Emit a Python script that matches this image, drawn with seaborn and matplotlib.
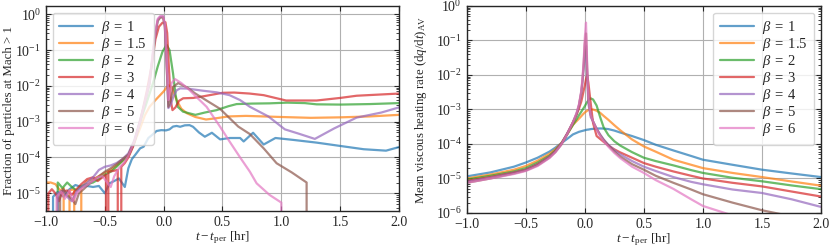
import numpy as np
import pandas as pd
import seaborn as sns
import matplotlib.pyplot as plt

betas = ['1', '1.5', '2', '3', '4', '5', '6']
colors = ['#1f77b4', '#ff7f0e', '#2ca02c', '#d62728', '#9467bd', '#8c564b', '#e377c2']

# ---- left panel: fraction of particles at Mach > 1 (0 = no particles) ----
mach_t_b1 = [-1.0, -0.98, -0.94, -0.9, -0.85, -0.8, -0.75, -0.7, -0.65, -0.6, -0.55, -0.5, -0.46,
             -0.42, -0.38, -0.33, -0.3, -0.27, -0.24, -0.2, -0.17, -0.13, -0.1, -0.06, -0.02, 0.02,
             0.05, 0.08, 0.11, 0.14, 0.18, 0.22, 0.25, 0.3, 0.35, 0.41, 0.48, 0.56, 0.65, 0.68, 0.76,
             0.85, 0.95, 1.1, 1.3, 1.5, 1.7, 1.89, 2.0]
mach_b1 = [1.4e-5, 0, 8e-6, 1.1e-5, 8e-6, 1.3e-5, 1.7e-5, 1.5e-5, 1.6e-5, 1.5e-5, 1.6e-5, 1.0e-5, 1.9e-5,
           2.2e-5, 2.6e-5, 1.5e-5, 5e-5, 9e-5, 1.2e-4, 1.8e-4, 2.0e-4, 3.5e-4, 4.2e-4, 5.5e-4, 5.8e-4, 5.7e-4,
           6.1e-4, 7.3e-4, 7.6e-4, 7.2e-4, 7.9e-4, 8.0e-4, 7.2e-4, 5.0e-4, 3.8e-4, 4.9e-4, 3.2e-4, 3.5e-4,
           3.5e-4, 2.8e-4, 4.9e-4, 2.3e-4, 3.5e-4, 3.1e-4, 2.6e-4, 2.1e-4, 1.7e-4, 1.55e-4, 1.95e-4]

mach_t_b15 = [-1.0, -0.96, -0.92, -0.88, -0.85, -0.83, -0.8, -0.76, -0.73, -0.7, -0.65, -0.6, -0.55, -0.5,
              -0.45, -0.4, -0.35, -0.3, -0.25, -0.2, -0.16, -0.12, -0.07, 0.0, 0.04, 0.07, 0.11, 0.15,
              0.2, 0.27, 0.36, 0.45, 0.55, 0.7, 0.85, 1.0, 1.25, 1.5, 1.75, 2.0]
mach_b15 = [2e-5, 2e-5, 1.8e-5, 1.2e-5, 1.4e-5, 0, 1.2e-5, 1.3e-5, 0, 1.4e-5, 2.2e-5, 2.5e-5, 3e-5, 3.8e-5,
            4.5e-5, 6e-5, 8e-5, 1.1e-4, 2.6e-4, 6.6e-4, 1.5e-3, 2.6e-3, 4e-3, 7e-3, 1.05e-2, 9e-3, 4e-3, 2.3e-3,
            1.7e-3, 1.35e-3, 1.15e-3, 1.25e-3, 1.4e-3, 1.45e-3, 1.4e-3, 1.35e-3, 1.28e-3, 1.32e-3, 1.4e-3, 1.55e-3]

mach_t_b2 = [-0.93, -0.9, -0.86, -0.82, -0.78, -0.74, -0.7, -0.65, -0.6, -0.55, -0.5, -0.45, -0.4, -0.35,
             -0.3, -0.25, -0.2, -0.15, -0.09, -0.05, -0.01, 0.025, 0.05, 0.08, 0.1, 0.12, 0.165, 0.27, 0.35,
             0.45, 0.55, 0.62, 0.75, 0.9, 1.05, 1.2, 1.3, 1.5, 1.75, 2.0]
mach_b2 = [0, 2e-5, 1.4e-5, 2e-5, 1.5e-5, 1.2e-5, 1.6e-5, 1.8e-5, 2e-5, 2.5e-5, 3.3e-5, 4e-5, 5.5e-5, 8e-5,
           1.1e-4, 2.5e-4, 1e-3, 3e-3, 1.2e-2, 3.5e-2, 9e-2, 1.4e-1, 1e-1, 2.2e-2, 6e-3, 2.6e-3, 1.9e-3, 1.55e-3,
           1.8e-3, 2.1e-3, 2.7e-3, 3.1e-3, 3.2e-3, 3.25e-3, 3.4e-3, 3.3e-3, 3.05e-3, 3.0e-3, 3.1e-3, 3.3e-3]

mach_t_b3 = [-1.0, -0.98, -0.95, -0.92, -0.89, -0.86, -0.82, -0.78, -0.74, -0.7, -0.65, -0.6, -0.56, -0.52,
             -0.49, -0.48, -0.47, -0.43, -0.39, -0.38, -0.36, -0.33, -0.3, -0.26, -0.22, -0.18, -0.14, -0.1,
             -0.07, -0.04, -0.01, 0.015, 0.03, 0.045, 0.06, 0.075, 0.1, 0.13, 0.166, 0.25, 0.35, 0.5, 0.6,
             0.73, 0.85, 1.04, 1.3, 1.5, 1.64, 2.0]
mach_b3 = [0, 1e-5, 1.3e-5, 1e-5, 6e-6, 1.1e-5, 1.2e-5, 9e-6, 1.3e-5, 1.8e-5, 2.5e-5, 2.8e-5, 2.2e-5, 2.8e-5,
           3.3e-5, 0, 4e-5, 4.2e-5, 4.5e-5, 0, 5.5e-5, 7e-5, 1e-4, 2e-4, 6e-4, 2e-3, 8e-3, 4e-2,
           2e-1, 4.5e-1, 5.8e-1, 6e-1, 3e-1, 3e-2, 4e-3, 2.1e-3, 2.5e-3, 3.8e-3, 4.5e-3, 4.6e-3, 5.2e-3, 6.4e-3,
           6.5e-3, 6.1e-3, 5.5e-3, 3.9e-3, 3.9e-3, 4.6e-3, 5.3e-3, 6.1e-3]

mach_t_b4 = [-0.92, -0.9, -0.86, -0.82, -0.78, -0.74, -0.7, -0.65, -0.6, -0.55, -0.5, -0.45, -0.4, -0.35,
             -0.3, -0.25, -0.2, -0.16, -0.12, -0.09, -0.07, -0.05, -0.03, -0.005, 0.01, 0.025, 0.04, 0.06,
             0.083, 0.11, 0.14, 0.2, 0.336, 0.45, 0.56, 0.65, 0.733, 0.89, 1.03, 1.15, 1.285, 1.45, 1.64,
             1.85, 2.0]
mach_b4 = [0, 1e-5, 1.2e-5, 8e-6, 6e-6, 1.1e-5, 1.5e-5, 2e-5, 2.8e-5, 4.5e-5, 5.5e-5, 6e-5, 7e-5, 9e-5,
           1.3e-4, 3e-4, 1.1e-3, 3.5e-3, 1.2e-2, 9e-2, 3e-1, 7e-1, 8.5e-1, 8.7e-1, 5e-1, 5e-2, 2.4e-3, 3e-3,
           5e-3, 7.5e-3, 8.5e-3, 8.4e-3, 7.3e-3, 6.6e-3, 5.5e-3, 4e-3, 2.6e-3, 1.4e-3, 6.1e-4, 4.6e-4, 3.3e-4,
           6.5e-4, 1.3e-3, 1.8e-3, 2.5e-3]

mach_t_b5 = [-0.9, -0.88, -0.85, -0.82, -0.78, -0.75, -0.72, -0.68, -0.62, -0.55, -0.5, -0.45, -0.4, -0.35,
             -0.3, -0.25, -0.2, -0.16, -0.12, -0.09, -0.07, -0.05, -0.03, -0.005, 0.01, 0.025, 0.04, 0.06,
             0.083, 0.124, 0.2, 0.266, 0.37, 0.478, 0.634, 0.733, 0.85, 0.96, 1.09, 1.215, 1.225]
mach_b5 = [0, 1e-5, 1.3e-5, 9e-6, 7e-6, 5e-6, 1e-5, 1.3e-5, 2e-5, 3e-5, 4e-5, 5e-5, 6.5e-5, 9e-5,
           1.2e-4, 2.8e-4, 1e-3, 3.3e-3, 1.1e-2, 8e-2, 2.8e-1, 6.5e-1, 8e-1, 8.2e-1, 4.5e-1, 4e-2, 2.6e-3, 4e-3,
           9.5e-3, 1.2e-2, 9e-3, 6.2e-3, 3.8e-3, 2.3e-3, 7.3e-4, 4.5e-4, 1.8e-4, 6.9e-5, 3.8e-5, 2e-5, 0]

mach_t_b6 = [-0.93, -0.91, -0.87, -0.84, -0.8, -0.77, -0.73, -0.68, -0.62, -0.56, -0.52, -0.48, -0.45, -0.42,
             -0.38, -0.34, -0.3, -0.25, -0.2, -0.16, -0.12, -0.09, -0.07, -0.05, -0.03, -0.005, 0.01, 0.025,
             0.04, 0.068, 0.096, 0.15, 0.22, 0.29, 0.365, 0.48, 0.56, 0.65, 0.733, 0.79, 0.9, 1.0, 1.01]
mach_b6 = [0, 8e-6, 1.1e-5, 7e-6, 1.2e-5, 6e-6, 1.1e-5, 1.5e-5, 2e-5, 2.8e-5, 3e-5, 2e-5, 1.5e-5, 3e-5,
           5e-5, 7e-5, 1.1e-4, 2.7e-4, 1e-3, 3.5e-3, 1.3e-2, 1e-1, 3.2e-1, 7.5e-1, 8.8e-1, 8.8e-1, 5.5e-1, 6e-2,
           4e-3, 1.2e-2, 1.55e-2, 1.2e-2, 7.6e-3, 4.5e-3, 2.6e-3, 7.2e-4, 2.8e-4, 1e-4, 4e-5, 1.9e-5, 9e-6,
           5.5e-6, 0]

# ---- right panel: mean viscous heating rate ----
heat_t = [-1.0, -0.8, -0.6, -0.5, -0.4, -0.3, -0.25, -0.2, -0.15, -0.1, -0.07, -0.05, -0.03, -0.02, -0.01,
          0.0, 0.01, 0.02, 0.03, 0.05, 0.07, 0.1, 0.13, 0.16, 0.2, 0.25, 0.3, 0.4, 0.5, 0.6, 0.75, 0.9,
          1.0, 1.25, 1.5, 1.75, 2.0]
heat_b1 = [1.15e-5, 1.5e-5, 2.2e-5, 2.9e-5, 4.0e-5, 6.0e-5, 7.8e-5, 1.05e-4, 1.4e-4, 1.9e-4, 2.1e-4, 2.25e-4,
           2.35e-4, 2.4e-4, 2.45e-4, 2.5e-4, 2.55e-4, 2.6e-4, 2.62e-4, 2.7e-4, 2.75e-4, 2.8e-4, 2.82e-4, 2.8e-4,
           2.7e-4, 2.45e-4, 2.15e-4, 1.7e-4, 1.3e-4, 9.5e-5, 6.5e-5, 4.5e-5, 3.5e-5, 2.5e-5, 1.8e-5, 1.4e-5,
           1.1e-5]
heat_b15 = [1.0e-5, 1.3e-5, 1.8e-5, 2.3e-5, 3.3e-5, 5.2e-5, 7e-5, 1.05e-4, 1.9e-4, 3.6e-4, 4.6e-4, 5.4e-4,
            6.4e-4, 7e-4, 7.6e-4, 8.2e-4, 8.7e-4, 9.2e-4, 9.6e-4, 1.0e-3, 1.0e-3, 9.2e-4, 8e-4, 6.5e-4, 5e-4,
            3.5e-4, 2.5e-4, 1.35e-4, 8.5e-5, 6e-5, 3.5e-5, 2.5e-5, 2e-5, 1.45e-5, 1.1e-5, 8.2e-6, 6.2e-6]
heat_b2 = [9.3e-6, 1.2e-5, 1.6e-5, 2.0e-5, 2.9e-5, 4.6e-5, 6.5e-5, 1e-4, 1.9e-4, 3.6e-4, 5.2e-4, 6.8e-4,
           8.6e-4, 9.8e-4, 1.1e-3, 1.25e-3, 1.45e-3, 1.65e-3, 1.85e-3, 2.1e-3, 1.95e-3, 1.3e-3, 6e-4, 3e-4,
           1.8e-4, 1.2e-4, 9e-5, 5.8e-5, 4e-5, 3.2e-5, 2.4e-5, 1.75e-5, 1.45e-5, 1.05e-5, 8.3e-6, 6.3e-6, 4.9e-6]
heat_b3 = [8.5e-6, 1.1e-5, 1.5e-5, 1.8e-5, 2.6e-5, 4.3e-5, 6.2e-5, 1e-4, 2e-4, 4.2e-4, 7e-4, 1.05e-3,
           1.7e-3, 2.4e-3, 3.5e-3, 5e-3, 7.5e-3, 1e-2, 6e-3, 1.5e-3, 4e-4, 1.7e-4, 1.4e-4, 1.15e-4, 9e-5,
           7e-5, 5.7e-5, 4e-5, 2.8e-5, 2.2e-5, 1.6e-5, 1.2e-5, 1e-5, 7.5e-6, 5.9e-6, 4.2e-6, 3e-6]
heat_b4 = [8e-6, 1.05e-5, 1.45e-5, 1.75e-5, 2.5e-5, 4.2e-5, 6e-5, 1e-4, 2e-4, 4.3e-4, 7.5e-4, 1.3e-3,
           3e-3, 6e-3, 1.5e-2, 4e-2, 7e-2, 1e-2, 1.5e-3, 6e-4, 4.5e-4, 2.8e-4, 1.9e-4, 1.35e-4, 9.5e-5,
           6.6e-5, 5e-5, 3.2e-5, 2.2e-5, 1.65e-5, 1.1e-5, 8e-6, 6.8e-6, 4.8e-6, 3.8e-6, 2.5e-6, 1.5e-6]
heat_b5 = [7.5e-6, 1e-5, 1.4e-5, 1.7e-5, 2.4e-5, 4e-5, 5.8e-5, 9.5e-5, 1.9e-4, 4.3e-4, 7.5e-4, 1.3e-3,
           3.2e-3, 7e-3, 2e-2, 8e-2, 1.6e-1, 1.5e-2, 2e-3, 7e-4, 4.5e-4, 2.7e-4, 1.8e-4, 1.3e-4, 9e-5,
           6e-5, 4.3e-5, 2.6e-5, 1.8e-5, 1.2e-5, 7.5e-6, 4.8e-6, 3.5e-6, 2e-6, 1.2e-6, 8e-7, 5.5e-7]
heat_b6 = [7.5e-6, 1e-5, 1.35e-5, 1.65e-5, 2.3e-5, 3.9e-5, 5.7e-5, 9.5e-5, 1.9e-4, 4.3e-4, 8e-4, 1.4e-3,
           3.5e-3, 8e-3, 2.5e-2, 1.2e-1, 3.3e-1, 2e-2, 2.2e-3, 7e-4, 4.5e-4, 2.6e-4, 1.7e-4, 1.2e-4, 8.3e-5,
           5.5e-5, 3.9e-5, 2.2e-5, 1.45e-5, 9e-6, 5e-6, 2.5e-6, 1.6e-6, 8.5e-7, 5e-7, 3e-7, 2e-7]

mach_t = [mach_t_b1, mach_t_b15, mach_t_b2, mach_t_b3, mach_t_b4, mach_t_b5, mach_t_b6]
mach_vals = [mach_b1, mach_b15, mach_b2, mach_b3, mach_b4, mach_b5, mach_b6]
heat_vals = [heat_b1, heat_b15, heat_b2, heat_b3, heat_b4, heat_b5, heat_b6]

labels = [r'$\beta\;=\;%s$' % b for b in betas]
mach_df = pd.concat([pd.DataFrame({'t': t, 'y': v, 'beta': lab})
                     for t, v, lab in zip(mach_t, mach_vals, labels)], ignore_index=True)
heat_df = pd.concat([pd.DataFrame({'t': heat_t, 'y': v, 'beta': lab})
                     for v, lab in zip(heat_vals, labels)], ignore_index=True)

sns.set_style("ticks")
plt.rcParams['font.family'] = ['Liberation Serif', 'DejaVu Serif']
plt.rcParams['mathtext.fontset'] = 'custom'
plt.rcParams['mathtext.rm'] = 'Liberation Serif'
plt.rcParams['mathtext.it'] = 'Liberation Serif:italic'
plt.rcParams['mathtext.bf'] = 'Liberation Serif:bold'
plt.rcParams['font.size'] = 10
plt.rcParams['xtick.direction'] = 'in'
plt.rcParams['ytick.direction'] = 'in'
plt.rcParams['xtick.top'] = True
plt.rcParams['ytick.right'] = True

fig = plt.figure(figsize=(8.3, 2.49), dpi=100)
ax1 = fig.add_axes([0.0554, 0.1526, 0.4253, 0.8233])
ax2 = fig.add_axes([0.5623, 0.1446, 0.4269, 0.8313])

for ax, df in [(ax1, mach_df), (ax2, heat_df)]:
    sns.lineplot(data=df, x='t', y='y', hue='beta', hue_order=labels, palette=colors,
                 estimator=None, sort=False, alpha=0.7, linewidth=1.6, ax=ax)
    ax.set_yscale('log')
    ax.set_xlim(-1.0, 2.0)
    ax.set_xticks([-1.0, -0.5, 0.0, 0.5, 1.0, 1.5, 2.0])
    ax.grid(True, color='#b0b0b0', linewidth=0.8)
    ax.tick_params(which='both', direction='in', top=True, right=True, labelsize=10)
    ax.tick_params(which='major', length=3.5)
    ax.tick_params(which='minor', length=2)
    for s in ax.spines.values():
        s.set_linewidth(1.0)
    ax.set_xlabel(r'$t - t_{\rm per}$ [hr]', fontsize=9.5, labelpad=0.5)

ax1.set_ylim(3.2e-6, 1.7)
ax1.set_ylabel('Fraction of particles at Mach > 1', fontsize=9.3)
ax1.yaxis.set_label_coords(-0.088, 0.49)
sns.move_legend(ax1, 'upper left', title=None, fontsize=10.5, labelspacing=0.0,
                handlelength=2.3, handletextpad=0.6, borderaxespad=0.45, borderpad=0.45)

ax2.set_ylim(1e-6, 1.0)
ax2.set_ylabel(r'Mean viscous heating rate $(\mathrm{d}q/\mathrm{d}t)_{\rm AV}$', fontsize=9.3)
ax2.yaxis.set_label_coords(-0.106, 0.5)
sns.move_legend(ax2, 'upper right', title=None, fontsize=10.5, labelspacing=0.0,
                handlelength=2.3, handletextpad=0.6, borderaxespad=0.45, borderpad=0.45)

fig.savefig('out.png', dpi=100)
